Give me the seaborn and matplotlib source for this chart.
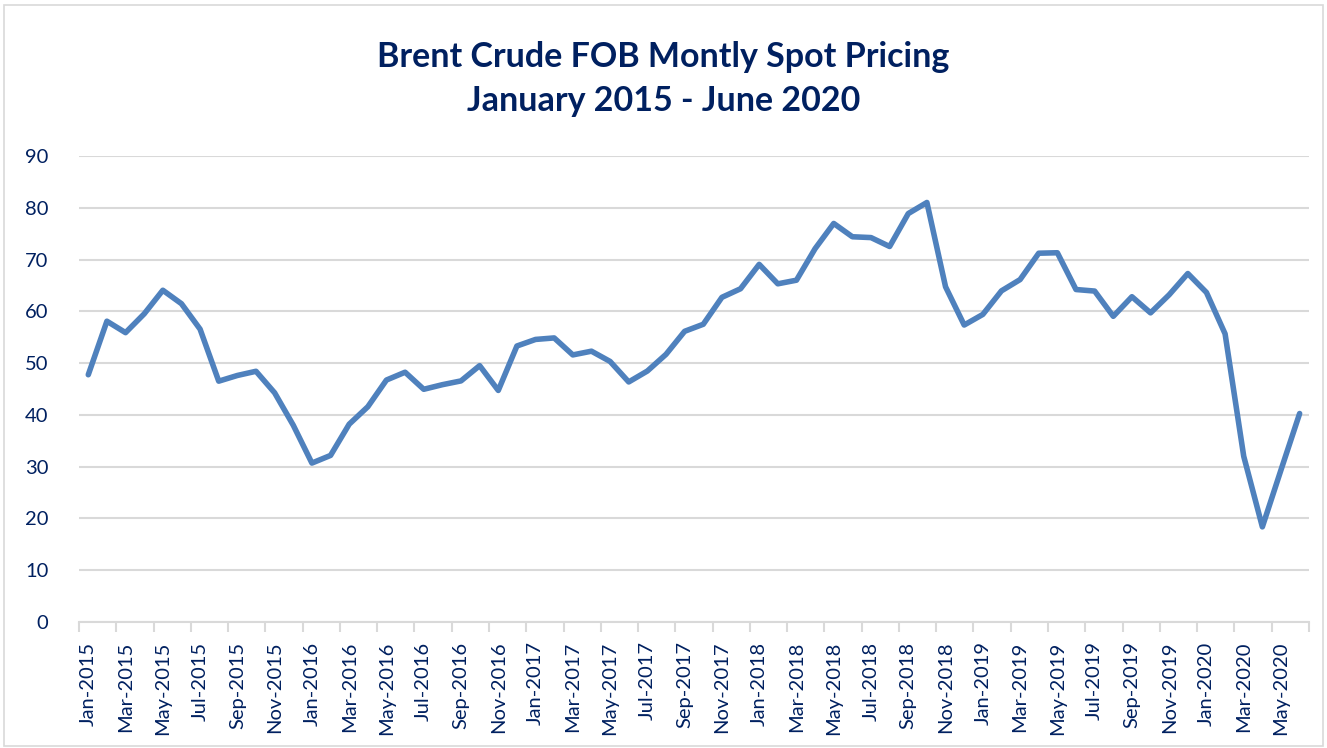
import numpy as np
import pandas as pd
import matplotlib.pyplot as plt
import seaborn as sns
from matplotlib.patches import Rectangle

# Monthly Brent spot prices, Jan 2015 - Jun 2020
months = pd.date_range('2015-01-01', '2020-06-01', freq='MS').strftime('%b-%Y').tolist()
prices = [47.76, 58.10, 55.89, 59.52, 64.08, 61.48, 56.56, 46.52, 47.62, 48.43, 44.27, 38.01,
          30.70, 32.18, 38.21, 41.58, 46.74, 48.25, 44.95, 45.84, 46.57, 49.52, 44.73, 53.31,
          54.58, 54.87, 51.59, 52.31, 50.33, 46.37, 48.48, 51.70, 56.15, 57.51, 62.71, 64.37,
          69.08, 65.32, 66.02, 72.11, 76.98, 74.41, 74.25, 72.53, 78.89, 81.03, 64.75, 57.36,
          59.41, 63.96, 66.14, 71.23, 71.32, 64.22, 63.92, 59.04, 62.83, 59.71, 63.21, 67.31,
          63.65, 55.66, 32.01, 18.38, 29.38, 40.27]
title_lines = ['Brent Crude FOB Montly Spot Pricing', 'January 2015 - June 2020']

navy = '#002060'
df = pd.DataFrame({'pos': np.arange(len(months)), 'price': prices})

sns.set_style('white')
plt.rcParams['font.family'] = ['Lato', 'DejaVu Sans']

fig = plt.figure(figsize=(13.27, 7.48), dpi=100)
ax = fig.add_axes([0.0595, 0.1684, 0.9269, 0.623])

sns.lineplot(data=df, x='pos', y='price', color='#4F81BD', linewidth=4, ax=ax)

ax.set_xlim(-0.5, len(months) - 0.5)
ax.set_ylim(0, 90)
ax.set_yticks(range(0, 91, 10))
ax.yaxis.grid(True, color='#D9D9D9', linewidth=1.5)
ax.set_axisbelow(True)

# labels every other month, tick marks on category boundaries
ax.set_xticks(df['pos'][::2])
ax.set_xticklabels(months[::2], rotation=90)
ax.set_xticks(np.arange(-0.5, len(months), 2), minor=True)
ax.tick_params(axis='x', which='major', length=0, pad=14, labelsize=14.5, labelcolor=navy)
ax.tick_params(axis='x', which='minor', length=7, width=1.5, color='#D9D9D9', bottom=True)
ax.tick_params(axis='y', length=0, pad=22, labelsize=14.5, labelcolor=navy)

for s in ['left', 'right', 'top']:
    ax.spines[s].set_visible(False)
ax.spines['bottom'].set_color('#D9D9D9')
ax.spines['bottom'].set_linewidth(1.5)

ax.set_xlabel('')
ax.set_ylabel('')
for y, line in zip([0.924, 0.865], title_lines):
    fig.text(0.5, y, line, ha='center', va='center', fontsize=24.5, fontweight='bold',
             color=navy)

fig.patches.append(Rectangle((0.003, 0.003), 0.994, 0.99, transform=fig.transFigure,
                             fill=False, edgecolor='#D9D9D9', linewidth=1.2))

fig.savefig('out.png', dpi=100)
